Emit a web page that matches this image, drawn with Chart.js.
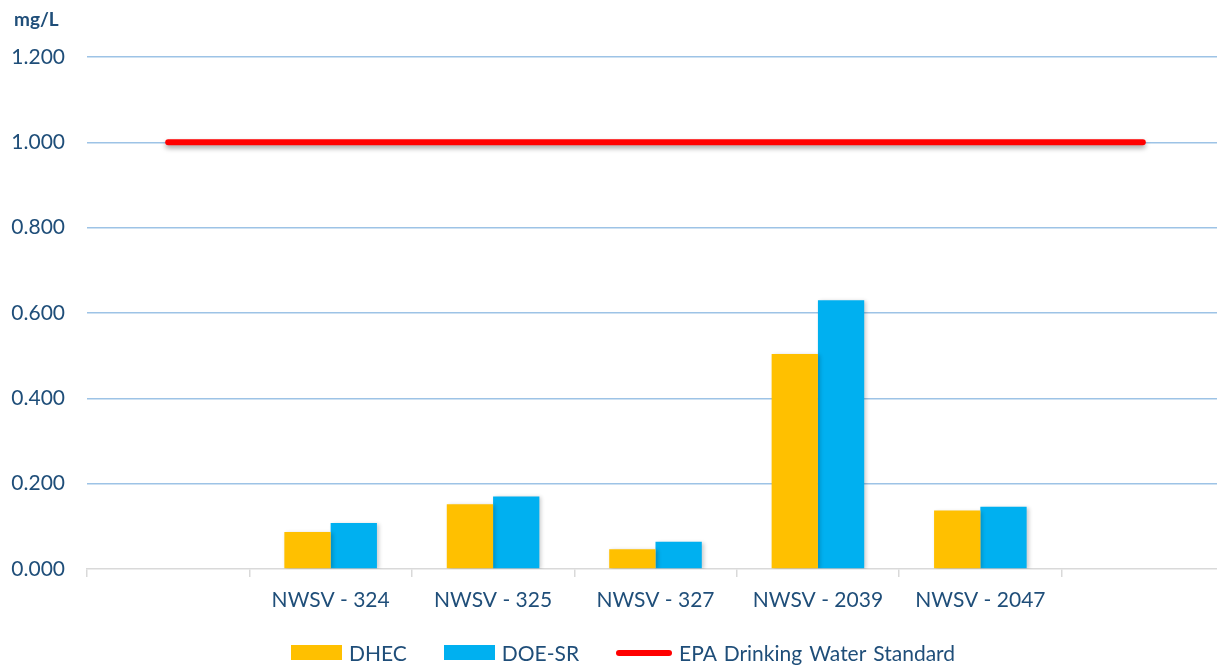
<!DOCTYPE html>
<html>
<head>
<meta charset="utf-8">
<script src="https://cdn.jsdelivr.net/npm/chart.js@4"></script>
<style>
    html, body { margin: 0; padding: 0; background: #fff; overflow: hidden; }
    #wrap { position: relative; width: 1224px; height: 666px; }
    #unit { position: absolute; left: 14px; top: 7px; font: bold 19px Lato, sans-serif; color: #1f4e79; }
    #legend { position: absolute; left: 291px; top: 640px; display: flex; gap: 37px; font: 21px Lato, sans-serif; color: #1f4e79; word-spacing: 2px; white-space: nowrap; }
    .item { display: flex; align-items: center; gap: 7px; }
    .swatch { width: 51px; height: 15px; }
    .swatch.line { height: 6px; border-radius: 3px; width: 56px; }
</style>
</head>
<body>
<div id="wrap">
    <canvas id="chart" width="1224" height="666"></canvas>
    <div id="unit">mg/L</div>
    <div id="legend"></div>
</div>
<script>
const categories = ['', 'NWSV - 324', 'NWSV - 325', 'NWSV - 327', 'NWSV - 2039', 'NWSV - 2047', ''];
const dhec = [null, 0.087, 0.152, 0.046, 0.504, 0.137, null];
const doeSr = [null, 0.108, 0.170, 0.064, 0.630, 0.146, null];
const epaStandard = [1, 1, 1, 1, 1, 1, 1];
const yTicks = [0, 0.2, 0.4, 0.6, 0.8, 1.0, 1.2];

const textColor = '#1f4e79';

// soft drop shadow like the office chart
const shadowPlugin = {
    id: 'shadows',
    beforeDatasetDraw(chart, args) {
        const ctx = chart.ctx;
        ctx.save();
        if (args.meta.type === 'line') {
            ctx.shadowColor = 'rgba(0,0,0,0.35)';
            ctx.shadowBlur = 5;
            ctx.shadowOffsetY = 3;
        } else {
            ctx.shadowColor = 'rgba(0,0,0,0.2)';
            ctx.shadowBlur = 4;
            ctx.shadowOffsetX = 2;
            ctx.shadowOffsetY = 1;
        }
    },
    afterDatasetDraw(chart) {
        chart.ctx.restore();
    }
};

const chart = new Chart(document.getElementById('chart').getContext('2d'), {
    type: 'bar',
    data: {
        labels: categories,
        datasets: [
            {
                type: 'line',
                label: 'EPA Drinking Water Standard',
                data: epaStandard,
                borderColor: '#ff0000',
                backgroundColor: '#ff0000',
                borderWidth: 6,
                borderCapStyle: 'round',
                pointRadius: 0,
                order: 0
            },
            {
                label: 'DHEC',
                data: dhec,
                backgroundColor: '#ffc000',
                categoryPercentage: 0.57,
                barPercentage: 1.0,
                order: 1
            },
            {
                label: 'DOE-SR',
                data: doeSr,
                backgroundColor: '#00b0f0',
                categoryPercentage: 0.57,
                barPercentage: 1.0,
                order: 1
            }
        ]
    },
    options: {
        responsive: false,
        animation: false,
        layout: { padding: { top: 57, right: 0, bottom: 47, left: 0 } },
        plugins: {
            legend: { display: false },
            tooltip: { enabled: false }
        },
        scales: {
            x: {
                grid: {
                    offset: true,
                    drawOnChartArea: false,
                    color: '#d9d9d9',
                    lineWidth: 1.5,
                    tickLength: 8
                },
                border: { color: '#d9d9d9', width: 1.5 },
                ticks: {
                    color: textColor,
                    font: { family: 'Lato', size: 21 },
                    padding: 11,
                    maxRotation: 0,
                    autoSkip: false
                },
                afterFit(scale) { scale.height = 50; }
            },
            y: {
                min: 0,
                max: 1.2,
                afterBuildTicks(scale) { scale.ticks = yTicks.map(v => ({ value: v })); },
                grid: {
                    color: ctx => ctx.tick && ctx.tick.value === 0 ? 'rgba(0,0,0,0)' : '#9dc3e6',
                    lineWidth: 1.5,
                    drawTicks: false
                },
                border: { display: false },
                ticks: {
                    color: textColor,
                    font: { family: 'Lato', size: 21 },
                    padding: 22,
                    callback: v => v.toFixed(3)
                },
                afterFit(scale) { scale.width = 87; }
            }
        }
    },
    plugins: [shadowPlugin]
});

// legend in page order: bars first, then the standard line
const legend = document.getElementById('legend');
[1, 2, 0].forEach(i => {
    const ds = chart.data.datasets[i];
    const item = document.createElement('div');
    item.className = 'item';
    const sw = document.createElement('span');
    sw.className = 'swatch' + (ds.type === 'line' ? ' line' : '');
    sw.style.background = ds.type === 'line' ? ds.borderColor : ds.backgroundColor;
    const label = document.createElement('span');
    label.textContent = ds.label;
    item.appendChild(sw);
    item.appendChild(label);
    legend.appendChild(item);
});
</script>
</body>
</html>
